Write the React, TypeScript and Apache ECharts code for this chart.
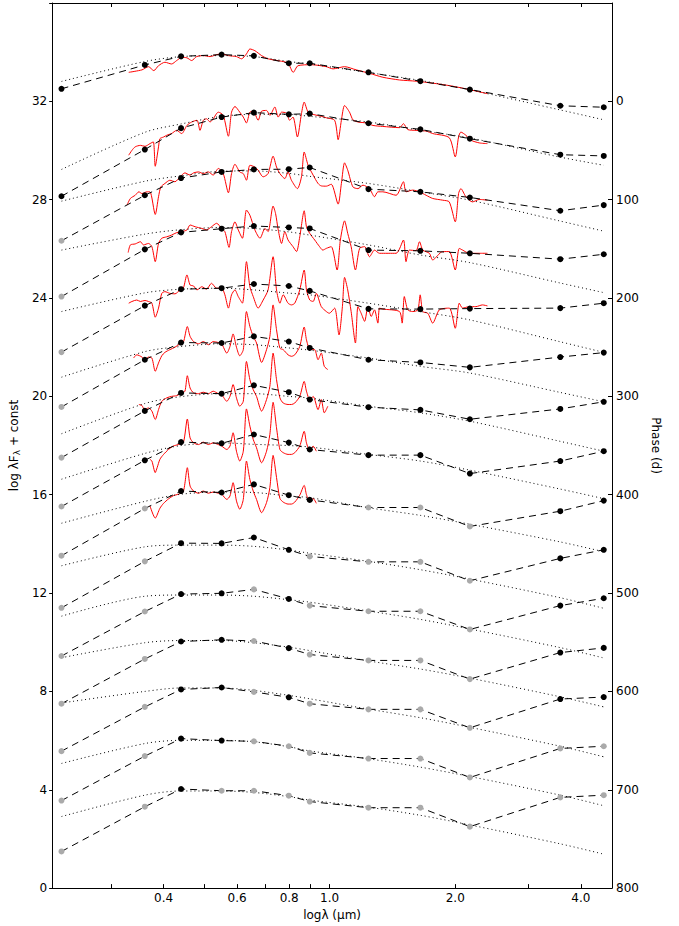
import React, { useEffect, useRef } from "react";
import * as echarts from "echarts";

// Band effective wavelengths (µm): UVM2, U, B, V, R, I, z, J, H, K, [3.6], [4.5]
const BAND_WAVE = [0.2277, 0.3607, 0.4405, 0.551, 0.6584, 0.7983, 0.896, 1.239, 1.65, 2.168, 3.571, 4.539];

// Photometric SEDs (log λFλ + const), one per epoch, top to bottom
const PHOT_1 = [32.51, 33.48, 33.83, 33.9, 33.85, 33.55, 33.55, 33.18, 32.82, 32.48, 31.82, 31.76];
const PHOT_2 = [28.14, 30.04, 30.91, 31.36, 31.54, 31.47, 31.5, 31.11, 30.86, 30.48, 29.83, 29.78];
const PHOT_3 = [26.33, 28.18, 28.88, 29.13, 29.23, 29.24, 29.31, 28.43, 28.32, 28.09, 27.55, 27.78];
const PHOT_4 = [24.06, 25.98, 26.67, 26.82, 26.93, 26.87, 26.83, 25.95, 25.92, 25.82, 25.58, 25.78];
const PHOT_5 = [21.8, 23.69, 24.36, 24.4, 24.57, 24.49, 24.29, 23.56, 23.55, 23.57, 23.59, 23.79];
const PHOT_6 = [19.57, 21.49, 22.19, 22.17, 22.44, 22.23, 21.97, 21.49, 21.38, 21.18, 21.6, 21.78];
const PHOT_7 = [17.51, 19.41, 20.14, 20.11, 20.45, 20.17, 19.87, 19.56, 19.45, 19.07, 19.49, 19.78];
const PHOT_8 = [15.52, 17.4, 18.14, 18.09, 18.45, 18.12, 17.84, 17.61, 17.61, 16.86, 17.37, 17.77];
const PHOT_9 = [13.52, 15.44, 16.15, 16.09, 16.42, 15.98, 15.79, 15.48, 15.48, 14.71, 15.33, 15.76];
const PHOT_10 = [11.4, 13.29, 14.03, 14.02, 14.26, 13.76, 13.49, 13.27, 13.27, 12.5, 13.41, 13.76];
const PHOT_11 = [9.44, 11.25, 11.96, 11.99, 12.15, 11.76, 11.49, 11.26, 11.26, 10.52, 11.49, 11.79];
const PHOT_12 = [7.5, 9.32, 10.03, 10.1, 10.05, 9.76, 9.5, 9.26, 9.26, 8.5, 9.58, 9.77];
const PHOT_13 = [5.57, 7.37, 8.08, 8.16, 7.98, 7.76, 7.5, 7.27, 7.27, 6.52, 7.69, 7.77];
const PHOT_14 = [3.56, 5.37, 6.08, 6.0, 5.97, 5.77, 5.5, 5.27, 5.27, 4.5, 5.68, 5.77];
const PHOT_15 = [1.49, 3.31, 4.03, 3.96, 3.96, 3.76, 3.52, 3.27, 3.27, 2.5, 3.69, 3.78];

// 1 = observed (black), 0 = interpolated (grey)
const OBS_1 = [1, 1, 1, 1, 1, 1, 1, 1, 1, 1, 1, 1];
const OBS_2 = [1, 1, 1, 1, 1, 1, 1, 1, 1, 1, 1, 1];
const OBS_3 = [0, 1, 1, 1, 1, 1, 1, 1, 1, 1, 1, 1];
const OBS_4 = [0, 1, 1, 1, 1, 1, 1, 1, 1, 1, 1, 1];
const OBS_5 = [0, 1, 1, 1, 1, 1, 1, 1, 1, 1, 1, 1];
const OBS_6 = [0, 1, 1, 1, 1, 1, 1, 1, 1, 1, 1, 1];
const OBS_7 = [0, 1, 1, 1, 1, 1, 1, 1, 1, 1, 1, 1];
const OBS_8 = [0, 1, 1, 1, 1, 1, 1, 1, 1, 1, 1, 1];
const OBS_9 = [0, 0, 1, 1, 1, 1, 1, 0, 0, 0, 1, 1];
const OBS_10 = [0, 0, 1, 1, 1, 1, 0, 0, 0, 0, 1, 1];
const OBS_11 = [0, 0, 1, 1, 0, 1, 0, 0, 0, 0, 1, 1];
const OBS_12 = [0, 0, 1, 1, 0, 1, 0, 0, 0, 0, 1, 1];
const OBS_13 = [0, 0, 1, 1, 0, 1, 0, 0, 0, 0, 1, 1];
const OBS_14 = [0, 0, 1, 1, 0, 0, 0, 0, 0, 0, 0, 0];
const OBS_15 = [0, 0, 1, 0, 0, 0, 0, 0, 0, 0, 0, 0];

// Blackbody fits evaluated at the band wavelengths
const BB_1 = [32.81, 33.62, 33.82, 33.86, 33.82, 33.62, 33.52, 33.17, 32.85, 32.47, 31.65, 31.25];
const BB_2 = [29.23, 30.74, 31.08, 31.39, 31.47, 31.47, 31.39, 31.16, 30.82, 30.51, 29.73, 29.4];
const BB_3 = [27.94, 28.75, 28.97, 29.16, 29.17, 29.07, 28.95, 28.66, 28.32, 27.98, 27.13, 26.72];
const BB_4 = [25.95, 26.6, 26.78, 26.87, 26.83, 26.69, 26.56, 26.16, 25.75, 25.44, 24.61, 24.22];
const BB_5 = [23.45, 24.21, 24.36, 24.4, 24.33, 24.2, 24.13, 23.79, 23.45, 23.11, 22.22, 21.79];
const BB_6 = [20.78, 21.82, 22.03, 22.14, 22.1, 21.97, 21.88, 21.56, 21.22, 20.95, 20.16, 19.78];
const BB_7 = [18.48, 19.71, 19.99, 20.11, 20.11, 20.0, 19.93, 19.6, 19.33, 18.99, 18.17, 17.77];
const BB_8 = [16.63, 17.68, 18.0, 18.11, 18.05, 18.0, 17.94, 17.64, 17.37, 17.0, 16.23, 15.84];
const BB_9 = [14.84, 15.73, 16.02, 16.11, 16.09, 15.95, 15.88, 15.47, 15.16, 14.8, 14.08, 13.68];
const BB_10 = [13.11, 13.88, 13.95, 13.95, 13.9, 13.75, 13.62, 13.29, 12.95, 12.57, 11.81, 11.38];
const BB_11 = [11.06, 11.87, 11.92, 11.92, 11.87, 11.73, 11.63, 11.27, 10.93, 10.54, 9.78, 9.36];
const BB_12 = [9.37, 9.98, 10.07, 10.07, 9.98, 9.8, 9.66, 9.24, 8.91, 8.54, 7.78, 7.37];
const BB_13 = [7.53, 8.0, 8.14, 8.14, 8.04, 7.84, 7.7, 7.28, 6.93, 6.54, 5.77, 5.34];
const BB_14 = [5.07, 5.88, 6.01, 6.01, 5.95, 5.75, 5.58, 5.26, 4.92, 4.54, 3.78, 3.35];
const BB_15 = [2.91, 3.78, 3.95, 3.95, 3.89, 3.72, 3.58, 3.29, 2.96, 2.57, 1.8, 1.38];

// Spectra: [wavelength µm, log λFλ + const]
const SPEC_1 = [[0.33, 33.18], [0.355, 33.28], [0.368, 33.41], [0.379, 33.25], [0.389, 33.45], [0.403, 33.59], [0.418, 33.52], [0.43, 33.66], [0.442, 33.79], [0.455, 33.77], [0.467, 33.66], [0.48, 33.82], [0.498, 33.86], [0.517, 33.82], [0.536, 33.9], [0.551, 33.93], [0.572, 33.86], [0.598, 33.82], [0.615, 33.73], [0.632, 33.93], [0.644, 34.13], [0.662, 34.06], [0.687, 33.86], [0.712, 33.73], [0.767, 33.63], [0.795, 33.55], [0.818, 33.18], [0.84, 33.45], [0.904, 33.49], [0.982, 33.41], [1.019, 33.32], [1.086, 33.41], [1.158, 33.28], [1.246, 33.14], [1.341, 32.98], [1.47, 32.87], [1.611, 32.82], [1.766, 32.74], [1.935, 32.64], [2.121, 32.51], [2.39, 32.31]];
const SPEC_2 = [[0.33, 29.81], [0.336, 30.01], [0.342, 30.15], [0.352, 30.21], [0.361, 30.17], [0.371, 30.28], [0.378, 30.35], [0.382, 29.36], [0.389, 30.15], [0.392, 30.48], [0.4, 30.55], [0.407, 30.62], [0.418, 30.69], [0.43, 30.82], [0.442, 30.69], [0.455, 31.02], [0.467, 31.16], [0.481, 31.23], [0.489, 30.82], [0.498, 31.23], [0.507, 31.29], [0.517, 31.16], [0.526, 31.29], [0.541, 31.56], [0.556, 31.43], [0.572, 30.58], [0.582, 31.56], [0.593, 31.79], [0.609, 31.56], [0.621, 31.36], [0.632, 31.12], [0.644, 31.56], [0.656, 31.6], [0.674, 31.23], [0.687, 31.6], [0.706, 31.63], [0.719, 31.43], [0.739, 31.77], [0.753, 31.36], [0.767, 31.56], [0.788, 31.52], [0.802, 31.23], [0.817, 31.36], [0.837, 30.55], [0.856, 31.5], [0.869, 31.97], [0.888, 31.56], [0.913, 31.47], [0.955, 31.39], [0.982, 31.33], [1.028, 31.23], [1.048, 30.44], [1.067, 31.23], [1.086, 31.83], [1.116, 31.56], [1.137, 31.25], [1.169, 31.16], [1.224, 31.12], [1.27, 31.02], [1.341, 30.98], [1.47, 30.93], [1.503, 31.09], [1.539, 30.85], [1.611, 30.82], [1.703, 30.79], [1.766, 30.69], [1.935, 30.52], [2.0, 29.74], [2.037, 30.55], [2.063, 30.75], [2.121, 30.62], [2.18, 30.42], [2.283, 30.31], [2.389, 30.28]];
const SPEC_3 = [[0.327, 27.78], [0.333, 28.05], [0.342, 28.18], [0.349, 28.32], [0.355, 28.25], [0.365, 28.32], [0.371, 28.32], [0.382, 27.4], [0.389, 28.12], [0.394, 28.52], [0.403, 28.66], [0.414, 28.79], [0.426, 28.73], [0.438, 28.93], [0.45, 29.09], [0.463, 29.0], [0.472, 29.09], [0.485, 29.13], [0.498, 29.06], [0.512, 29.13], [0.526, 29.0], [0.541, 29.27], [0.556, 29.06], [0.572, 28.28], [0.582, 29.06], [0.593, 29.44], [0.609, 29.13], [0.621, 29.06], [0.632, 28.79], [0.644, 29.4], [0.662, 29.33], [0.674, 29.2], [0.693, 28.93], [0.712, 29.06], [0.732, 29.77], [0.746, 29.33], [0.76, 29.06], [0.781, 28.86], [0.795, 29.13], [0.81, 28.79], [0.837, 28.45], [0.856, 28.93], [0.869, 29.94], [0.888, 29.4], [0.913, 29.0], [0.938, 28.66], [0.955, 28.56], [0.982, 28.55], [1.009, 28.63], [1.048, 27.82], [1.067, 28.66], [1.086, 29.5], [1.105, 29.2], [1.137, 28.52], [1.169, 28.45], [1.202, 28.59], [1.246, 28.45], [1.281, 28.12], [1.305, 28.32], [1.341, 28.32], [1.443, 28.18], [1.503, 28.73], [1.524, 28.32], [1.582, 28.39], [1.642, 28.32], [1.703, 28.18], [1.766, 28.05], [1.866, 27.98], [1.935, 27.91], [2.0, 27.1], [2.037, 28.25], [2.063, 28.45], [2.121, 28.12], [2.199, 27.91], [2.283, 28.01], [2.389, 27.98]];
const SPEC_4 = [[0.329, 25.85], [0.333, 26.16], [0.342, 26.2], [0.352, 26.29], [0.358, 26.16], [0.368, 26.22], [0.375, 26.09], [0.382, 25.48], [0.389, 26.22], [0.396, 26.43], [0.407, 26.49], [0.418, 26.56], [0.43, 26.66], [0.442, 26.7], [0.455, 26.77], [0.463, 26.97], [0.476, 26.9], [0.494, 26.83], [0.507, 26.77], [0.521, 26.9], [0.536, 27.04], [0.551, 26.83], [0.561, 26.7], [0.574, 26.06], [0.582, 26.7], [0.593, 27.1], [0.604, 26.77], [0.618, 26.43], [0.632, 27.58], [0.644, 27.37], [0.662, 26.77], [0.681, 26.43], [0.7, 26.83], [0.712, 26.7], [0.732, 27.74], [0.742, 27.44], [0.753, 26.77], [0.767, 26.22], [0.781, 26.7], [0.795, 26.36], [0.817, 26.09], [0.833, 25.89], [0.848, 26.49], [0.869, 27.55], [0.88, 26.9], [0.896, 26.63], [0.921, 26.36], [0.946, 26.09], [0.963, 25.95], [0.982, 26.02], [1.009, 26.09], [1.042, 25.14], [1.061, 26.36], [1.086, 27.14], [1.105, 26.63], [1.126, 26.09], [1.153, 25.14], [1.18, 26.02], [1.213, 26.09], [1.246, 25.68], [1.281, 25.95], [1.317, 25.82], [1.443, 25.82], [1.503, 26.36], [1.524, 25.48], [1.553, 25.95], [1.611, 25.93], [1.642, 26.29], [1.672, 25.95], [1.734, 25.82], [1.766, 25.55], [1.866, 25.89], [1.935, 25.89], [2.0, 25.14], [2.045, 26.02], [2.083, 25.95], [2.16, 25.82], [2.283, 25.82], [2.389, 25.82]];
const SPEC_5 = [[0.33, 23.79], [0.336, 23.86], [0.345, 23.92], [0.352, 23.86], [0.361, 23.9], [0.368, 23.86], [0.375, 23.79], [0.382, 23.22], [0.389, 23.59], [0.396, 24.19], [0.403, 24.26], [0.414, 24.19], [0.426, 24.17], [0.438, 24.33], [0.446, 24.4], [0.455, 24.94], [0.463, 24.53], [0.472, 24.49], [0.481, 24.33], [0.494, 24.46], [0.507, 24.36], [0.521, 24.6], [0.536, 24.4], [0.551, 24.4], [0.561, 24.13], [0.572, 23.59], [0.582, 24.13], [0.593, 24.33], [0.604, 24.06], [0.618, 23.79], [0.632, 25.48], [0.644, 24.46], [0.656, 24.06], [0.674, 23.59], [0.693, 23.92], [0.712, 24.33], [0.732, 25.68], [0.746, 24.33], [0.76, 23.79], [0.774, 24.13], [0.795, 23.79], [0.81, 23.72], [0.825, 23.79], [0.848, 24.33], [0.869, 25.14], [0.88, 24.33], [0.896, 23.92], [0.913, 23.86], [0.929, 24.19], [0.955, 23.65], [0.982, 23.45], [0.998, 23.38], [1.028, 23.59], [1.053, 22.5], [1.073, 23.65], [1.086, 24.84], [1.105, 24.33], [1.126, 23.45], [1.153, 22.17], [1.169, 23.65], [1.19, 23.38], [1.213, 23.05], [1.235, 23.65], [1.258, 23.25], [1.281, 23.52], [1.305, 22.98], [1.317, 23.59], [1.341, 23.55], [1.47, 23.45], [1.492, 22.98], [1.51, 24.06], [1.539, 23.52], [1.582, 23.45], [1.627, 23.52], [1.648, 24.13], [1.672, 23.45], [1.719, 23.38], [1.766, 22.98], [1.832, 23.52], [1.935, 23.59], [2.0, 22.77], [2.045, 23.79], [2.083, 23.59], [2.16, 23.65], [2.241, 23.65], [2.324, 23.72], [2.389, 23.68]];
const SPEC_6 = [[0.339, 21.56], [0.345, 21.69], [0.355, 21.6], [0.36, 21.49], [0.368, 21.6], [0.375, 21.56], [0.382, 21.02], [0.389, 21.36], [0.396, 21.65], [0.403, 21.79], [0.414, 21.9], [0.426, 22.0], [0.438, 22.14], [0.446, 22.19], [0.456, 22.84], [0.463, 22.44], [0.472, 22.23], [0.485, 22.14], [0.498, 22.23], [0.512, 22.1], [0.526, 22.23], [0.541, 22.19], [0.551, 22.14], [0.567, 21.76], [0.577, 22.03], [0.587, 22.54], [0.598, 22.0], [0.609, 21.65], [0.621, 21.9], [0.632, 23.45], [0.644, 22.84], [0.656, 22.44], [0.668, 22.17], [0.687, 21.38], [0.706, 21.9], [0.719, 22.44], [0.732, 23.72], [0.746, 22.71], [0.76, 21.96], [0.774, 21.9], [0.795, 21.69], [0.81, 21.63], [0.825, 21.69], [0.848, 22.03], [0.869, 22.82], [0.88, 22.3], [0.896, 21.92], [0.921, 21.9], [0.938, 21.49], [0.955, 21.76], [0.971, 21.22], [0.99, 21.09]];
const SPEC_7 = [[0.349, 19.67], [0.355, 19.63], [0.36, 19.46], [0.368, 19.53], [0.375, 19.4], [0.382, 19.06], [0.389, 19.46], [0.396, 19.8], [0.407, 19.94], [0.418, 20.0], [0.43, 20.03], [0.442, 20.14], [0.45, 20.21], [0.456, 20.84], [0.463, 20.34], [0.472, 20.14], [0.485, 20.11], [0.498, 20.17], [0.512, 20.11], [0.526, 20.21], [0.541, 20.11], [0.551, 20.07], [0.567, 19.8], [0.577, 20.0], [0.587, 20.48], [0.598, 19.94], [0.609, 19.6], [0.621, 19.8], [0.632, 21.42], [0.644, 20.68], [0.656, 20.27], [0.668, 20.0], [0.687, 19.4], [0.706, 19.87], [0.719, 20.41], [0.732, 21.76], [0.746, 20.68], [0.76, 19.94], [0.774, 19.73], [0.795, 19.67], [0.81, 19.67], [0.825, 19.73], [0.848, 20.0], [0.869, 20.61], [0.88, 20.21], [0.896, 19.87], [0.913, 20.0], [0.938, 19.46], [0.955, 19.87], [0.971, 19.33], [0.99, 19.6]];
const SPEC_8 = [[0.371, 17.44], [0.375, 17.37], [0.382, 16.9], [0.386, 17.1], [0.392, 17.44], [0.4, 17.64], [0.411, 17.84], [0.422, 17.98], [0.434, 18.04], [0.446, 18.11], [0.456, 19.08], [0.463, 18.31], [0.472, 18.11], [0.485, 18.04], [0.498, 18.14], [0.512, 18.04], [0.526, 18.11], [0.541, 18.04], [0.551, 17.98], [0.567, 17.84], [0.577, 17.98], [0.587, 18.52], [0.598, 17.77], [0.609, 17.37], [0.621, 17.77], [0.632, 19.49], [0.644, 18.79], [0.656, 18.25], [0.668, 17.91], [0.687, 17.3], [0.706, 17.77], [0.719, 18.45], [0.732, 19.76], [0.746, 18.72], [0.76, 17.84], [0.774, 17.71], [0.795, 17.64], [0.81, 17.64], [0.825, 17.71], [0.848, 17.98], [0.869, 18.58], [0.88, 18.11], [0.896, 17.77], [0.913, 17.98], [0.929, 17.77]];
const SPEC_9 = [[0.371, 15.55], [0.382, 15.05], [0.392, 15.45], [0.4, 15.65], [0.411, 15.83], [0.422, 15.96], [0.434, 16.02], [0.446, 16.12], [0.456, 17.1], [0.463, 16.35], [0.472, 16.15], [0.485, 16.06], [0.498, 16.15], [0.512, 16.06], [0.526, 16.11], [0.541, 16.06], [0.551, 16.02], [0.567, 15.81], [0.577, 15.95], [0.587, 16.49], [0.598, 15.75], [0.609, 15.41], [0.621, 15.81], [0.632, 17.37], [0.644, 16.62], [0.656, 16.15], [0.668, 15.81], [0.687, 15.27], [0.706, 15.68], [0.719, 16.29], [0.732, 17.6], [0.746, 16.7], [0.76, 15.85], [0.774, 15.7], [0.795, 15.62], [0.81, 15.62], [0.825, 15.7], [0.848, 15.98], [0.869, 16.38], [0.88, 16.0], [0.896, 15.72], [0.913, 15.85], [0.929, 15.65]];

const PHOTS = [PHOT_1, PHOT_2, PHOT_3, PHOT_4, PHOT_5, PHOT_6, PHOT_7, PHOT_8, PHOT_9, PHOT_10, PHOT_11, PHOT_12, PHOT_13, PHOT_14, PHOT_15];
const OBSS = [OBS_1, OBS_2, OBS_3, OBS_4, OBS_5, OBS_6, OBS_7, OBS_8, OBS_9, OBS_10, OBS_11, OBS_12, OBS_13, OBS_14, OBS_15];
const BBS = [BB_1, BB_2, BB_3, BB_4, BB_5, BB_6, BB_7, BB_8, BB_9, BB_10, BB_11, BB_12, BB_13, BB_14, BB_15];
const SPECS = [SPEC_1, SPEC_2, SPEC_3, SPEC_4, SPEC_5, SPEC_6, SPEC_7, SPEC_8, SPEC_9];

const X_TICKS = [0.3, 0.4, 0.5, 0.6, 0.7, 0.8, 0.9, 1.0, 2.0, 3.0, 4.0];
const X_LABELS = [0.4, 0.6, 0.8, 1.0, 2.0, 4.0];

const FONT = "DejaVu Sans";

export default function App() {
  const ref = useRef<HTMLDivElement>(null);
  useEffect(() => {
    const chart = echarts.init(ref.current!, null, { renderer: "svg" });
    const series: any[] = [];
    SPECS.forEach((sp, i) => {
      series.push({
        name: "spec" + (i + 1),
        type: "line",
        data: sp,
        showSymbol: false,
        symbol: "none",
        smooth: 0.25,
        color: "#ff0000",
        lineStyle: { color: "#ff0000", width: 1 },
        z: 2,
        silent: true,
      });
    });
    BBS.forEach((bb, i) => {
      series.push({
        name: "bb" + (i + 1),
        type: "line",
        data: BAND_WAVE.map((w, k) => [w, bb[k]]),
        showSymbol: false,
        symbol: "none",
        smooth: 0.3,
        color: "#000",
        lineStyle: { color: "#000", width: 1, type: [1, 3] },
        z: 3,
        silent: true,
      });
    });
    PHOTS.forEach((ph, i) => {
      series.push({
        name: "phot" + (i + 1),
        type: "line",
        data: BAND_WAVE.map((w, k) => ({
          value: [w, ph[k]],
          itemStyle: { color: OBSS[i][k] ? "#000000" : "#aaaaaa" },
        })),
        symbol: "circle",
        symbolSize: 6,
        color: "#000",
        lineStyle: { color: "#000", width: 1, type: [7, 5] },
        z: 4,
        silent: true,
      });
    });

    const axisText = { color: "#000", fontFamily: FONT, fontSize: 12 };
    const option = {
      animation: false,
      backgroundColor: "#fff",
      grid: { left: 50, right: 67, top: 3, bottom: 36 },
      xAxis: [
        {
          type: "log",
          min: 0.2163,
          max: 4.75,
          position: "bottom",
          name: "logλ (µm)",
          nameLocation: "middle",
          nameGap: 17,
          nameTextStyle: { ...axisText },
          axisLine: { show: true, onZero: false, lineStyle: { color: "#000", width: 1 } },
          axisTick: { show: true, inside: true, length: 4, customValues: X_TICKS, lineStyle: { color: "#000" } },
          axisLabel: { ...axisText, margin: 4, customValues: X_LABELS, formatter: (v: number) => v.toFixed(1) },
          splitLine: { show: false },
          minorTick: { show: false },
        },
        {
          type: "log",
          min: 0.2163,
          max: 4.75,
          position: "top",
          axisLine: { show: true, onZero: false, lineStyle: { color: "#000", width: 1 } },
          axisTick: { show: true, inside: true, length: 4, customValues: X_TICKS, lineStyle: { color: "#000" } },
          axisLabel: { show: false },
          splitLine: { show: false },
        },
      ],
      yAxis: [
        {
          type: "value",
          min: 0,
          max: 36,
          interval: 4,
          position: "left",
          name: "{n|log λF}{s|λ}{n| + const}",
          nameLocation: "middle",
          nameGap: 26,
          nameRotate: 90,
          nameTextStyle: {
            ...axisText,
            rich: {
              n: { fontFamily: FONT, fontSize: 12, color: "#000" },
              s: { fontFamily: FONT, fontSize: 9, color: "#000", padding: [5, 0, 0, 0] },
            },
          },
          axisLine: { show: true, onZero: false, lineStyle: { color: "#000", width: 1 } },
          axisTick: { show: true, inside: false, length: 3, lineStyle: { color: "#000" } },
          axisLabel: { ...axisText, margin: 5, formatter: (v: number) => (v >= 36 ? "" : String(v)) },
          splitLine: { show: false },
        },
        {
          type: "value",
          min: -100,
          max: 800,
          interval: 100,
          inverse: true,
          position: "right",
          name: "Phase (d)",
          nameLocation: "middle",
          nameGap: 30,
          nameRotate: -90,
          nameTextStyle: { ...axisText },
          axisLine: { show: true, onZero: false, lineStyle: { color: "#000", width: 1 } },
          axisTick: { show: true, inside: true, length: 4, lineStyle: { color: "#000" } },
          axisLabel: { ...axisText, margin: 4, formatter: (v: number) => (v < 0 ? "" : String(v)) },
          splitLine: { show: false },
        },
      ],
      series,
    };
    chart.setOption(option as any);
    return () => chart.dispose();
  }, []);
  return (
    <div
      ref={ref}
      style={{ position: "fixed", left: 0, top: 0, width: 679, height: 926, background: "#fff" }}
    />
  );
}
